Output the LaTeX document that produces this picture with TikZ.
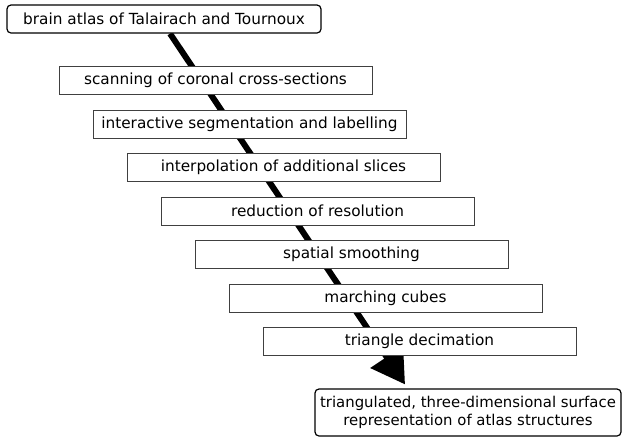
\documentclass[tikz,border=0pt]{standalone}
\usepackage{fontspec}
\setmainfont{DejaVu Sans}
\usetikzlibrary{arrows.meta,calc}
\pgfdeclarelayer{bg}
\pgfsetlayers{bg,main}
\begin{document}
\begin{tikzpicture}[x=1pt,y=-1pt,
  stepbox/.style={draw=black!75, line width=0.9pt, fill=white, minimum width=313pt,
    minimum height=28pt, inner sep=0pt, font=\fontsize{15.3}{18}\selectfont},
  endbox/.style={draw=black, line width=1.2pt, fill=white, rounded corners=4pt,
    inner sep=0pt, align=center, font=\fontsize{15.3}{18}\selectfont},
  flow/.style={line width=6pt, -{Triangle[length=33pt,width=38pt]}}]
\useasboundingbox (0,0) rectangle (622,437);
\node[endbox, minimum width=314pt, minimum height=28pt] (top) at (164,19)
  {brain atlas of Talairach and Tournoux};
\foreach \k/\t in {0/scanning of coronal cross-sections,
  1/interactive segmentation and labelling,
  2/interpolation of additional slices,
  3/reduction of resolution,
  4/spatial smoothing,
  5/marching cubes,
  6/triangle decimation}{
  \node[stepbox] (s\k) at (215.5+34*\k, 80.5+43.5*\k) {\t};
}
\node[endbox, minimum width=306pt, minimum height=47pt,
  font=\fontsize{14.9}{18}\selectfont] (bottom) at (468,412.5)
  {triangulated, three-dimensional surface\\representation of atlas structures};
\begin{pgfonlayer}{bg}
\coordinate (start) at ($(top.south)+(6,0)$);
\coordinate (tip) at ($(bottom.north)+(-63,-4)$);
\draw[flow] (start) -- (tip);
\end{pgfonlayer}
\end{tikzpicture}
\end{document}
